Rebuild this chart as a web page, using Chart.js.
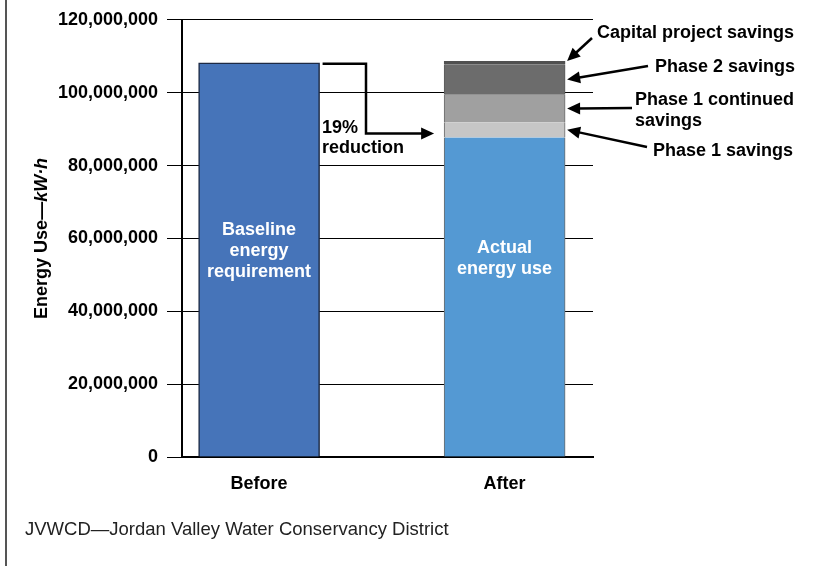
<!DOCTYPE html>
<html>
<head>
<meta charset="utf-8">
<script src="https://cdn.jsdelivr.net/npm/chart.js@4.4.0/dist/chart.umd.min.js"></script>
<style>
  body { margin: 0; background: #fff; }
  #wrap { position: relative; width: 831px; height: 566px; }
  #frame { position: absolute; left: 5px; top: 0; height: 566px; border-left: 2px solid #555; }
</style>
</head>
<body>
<div id="wrap">
  <div id="frame"></div>
  <canvas id="energyChart"></canvas>
</div>
<script>
// chart values
const categories = ['Before', 'After'];
const baselineUse = [108200000, null];
const actualUse = [null, 87700000];
const phase1Savings = [null, 4200000];
const phase1Continued = [null, 7500000];
const phase2Savings = [null, 8400000];
const capitalSavings = [null, 900000];
const yTicks = [0, 20000000, 40000000, 60000000, 80000000, 100000000, 120000000];

const barText = [['Baseline', 'energy', 'requirement'], ['Actual', 'energy use']];
const savingsText = [['Phase 1 savings'], ['Phase 1 continued', 'savings'], ['Phase 2 savings'], ['Capital project savings']];

const FONT = '"Liberation Sans", Arial, Helvetica, sans-serif';

function toPoints(arr) {
    return arr.map((v, i) => ({ x: i, y: v }));
}

function pointer(ctx, pts) {
    const n = pts.length;
    const [x1, y1] = pts[n - 2];
    const [x2, y2] = pts[n - 1];
    const a = Math.atan2(y2 - y1, x2 - x1);
    const len = 13, w = 6;
    ctx.beginPath();
    ctx.moveTo(pts[0][0], pts[0][1]);
    for (let i = 1; i < n - 1; i++) ctx.lineTo(pts[i][0], pts[i][1]);
    ctx.lineTo(x2 - (len - 2) * Math.cos(a), y2 - (len - 2) * Math.sin(a));
    ctx.stroke();
    ctx.beginPath();
    ctx.moveTo(x2, y2);
    ctx.lineTo(x2 - len * Math.cos(a) + w * Math.sin(a), y2 - len * Math.sin(a) - w * Math.cos(a));
    ctx.lineTo(x2 - len * Math.cos(a) - w * Math.sin(a), y2 - len * Math.sin(a) + w * Math.cos(a));
    ctx.closePath();
    ctx.fill();
}

const notes = {
    id: 'notes',
    afterDraw(chart) {
        const ctx = chart.ctx;
        const area = chart.chartArea;
        const before = chart.getDatasetMeta(0).data[0];
        const after = chart.getDatasetMeta(1).data[1];
        ctx.save();

        // text inside the bars
        ctx.fillStyle = '#fff';
        ctx.font = 'bold 18px ' + FONT;
        ctx.textAlign = 'center';
        ctx.textBaseline = 'middle';
        const yScale = chart.scales.y;
        const centers = [yScale.getPixelForValue(56600000), yScale.getPixelForValue(54500000)];
        [before, after].forEach((el, k) => {
            const lines = barText[k];
            lines.forEach((t, i) => {
                ctx.fillText(t, el.x, centers[k] + (i - (lines.length - 1) / 2) * 21);
            });
        });

        // reduction arrow
        ctx.fillStyle = '#000';
        ctx.strokeStyle = '#000';
        ctx.lineWidth = 2.5;
        const bx = before.x + before.width / 2 + 3;
        const ay = after.y - 4;
        pointer(ctx, [[bx, before.y + 1], [366, before.y + 1], [366, ay], [after.x - after.width / 2 - 10, ay]]);
        ctx.textAlign = 'left';
        ctx.fillText('19%', 322, 128);
        ctx.fillText('reduction', 322, 148);

        // savings callouts
        const spots = [
            { text: [653, 151], tail: [647, 147] },
            { text: [635, 100], tail: [632, 108] },
            { text: [655, 67], tail: [648, 66] },
            { text: [597, 33], tail: [592, 38] }
        ];
        spots.forEach((s, k) => {
            const el = chart.getDatasetMeta(k + 2).data[1];
            const tipX = el.x + el.width / 2 + 2;
            const tipY = k === 3 ? el.y : (el.y + el.base) / 2;
            pointer(ctx, [s.tail, [tipX, tipY]]);
            savingsText[k].forEach((t, i) => ctx.fillText(t, s.text[0], s.text[1] + i * 21));
        });

        // y axis title with italic unit
        const partA = 'Energy Use\u2014';
        const partB = 'kW\u00b7h';
        ctx.font = 'bold 18px ' + FONT;
        const wA = ctx.measureText(partA).width;
        ctx.font = 'italic bold 18px ' + FONT;
        const wB = ctx.measureText(partB).width;
        ctx.translate(42, (area.top + area.bottom) / 2);
        ctx.rotate(-Math.PI / 2);
        ctx.textAlign = 'left';
        ctx.font = 'bold 18px ' + FONT;
        ctx.fillText(partA, -(wA + wB) / 2, 0);
        ctx.font = 'italic bold 18px ' + FONT;
        ctx.fillText(partB, -(wA + wB) / 2 + wA, 0);
        ctx.setTransform(1, 0, 0, 1, 0, 0);

        // footnote
        ctx.font = '18.5px ' + FONT;
        ctx.fillStyle = '#222';
        ctx.fillText('JVWCD\u2014Jordan Valley Water Conservancy District', 25, 530);
        ctx.restore();
    }
};

const sideBorder = { left: 1, right: 1, top: 0, bottom: 0 };

new Chart(document.getElementById('energyChart'), {
    type: 'bar',
    data: {
        datasets: [
            { label: 'Baseline', data: toPoints(baselineUse), backgroundColor: '#4674B9', borderColor: '#1d2a44', borderWidth: 1.5 },
            { label: 'Actual energy use', data: toPoints(actualUse), backgroundColor: '#5499D3', borderColor: '#6b6b6b', borderWidth: sideBorder },
            { label: 'Phase 1 savings', data: toPoints(phase1Savings), backgroundColor: '#C6C6C6', borderColor: '#6b6b6b', borderWidth: sideBorder },
            { label: 'Phase 1 continued savings', data: toPoints(phase1Continued), backgroundColor: '#A0A0A0', borderColor: '#6b6b6b', borderWidth: sideBorder },
            { label: 'Phase 2 savings', data: toPoints(phase2Savings), backgroundColor: '#6C6C6C', borderColor: '#5a5a5a', borderWidth: sideBorder },
            { label: 'Capital project savings', data: toPoints(capitalSavings), backgroundColor: '#505050', borderColor: '#505050', borderWidth: sideBorder }
        ]
    },
    options: {
        responsive: true,
        maintainAspectRatio: false,
        animation: false,
        barThickness: 121,
        layout: { padding: { top: 18, right: 238, left: 0, bottom: 0 } },
        plugins: { legend: { display: false }, tooltip: { enabled: false } },
        scales: {
            x: {
                type: 'linear',
                stacked: true,
                offset: false,
                min: -0.314,
                max: 1.36,
                z: 1,
                afterBuildTicks: (s) => { s.ticks = categories.map((_, i) => ({ value: i })); },
                afterFit: (s) => { s.height = 109; },
                grid: { display: false, drawTicks: false },
                border: { color: '#000', width: 2 },
                ticks: {
                    padding: 16,
                    color: '#000',
                    font: { family: FONT, size: 18, weight: 'bold' },
                    callback: (v) => categories[v]
                }
            },
            y: {
                stacked: true,
                min: 0,
                max: 120000000,
                afterBuildTicks: (s) => { s.ticks = yTicks.map(v => ({ value: v })); },
                afterFit: (s) => { s.width = 182; },
                grid: { color: '#000', lineWidth: 1, tickLength: 15 },
                border: { color: '#000', width: 2 },
                ticks: {
                    padding: 9,
                    color: '#000',
                    font: { family: FONT, size: 18, weight: 'bold' },
                    callback: (v) => v.toLocaleString('en-US')
                }
            }
        }
    },
    plugins: [notes]
});
</script>
</body>
</html>
